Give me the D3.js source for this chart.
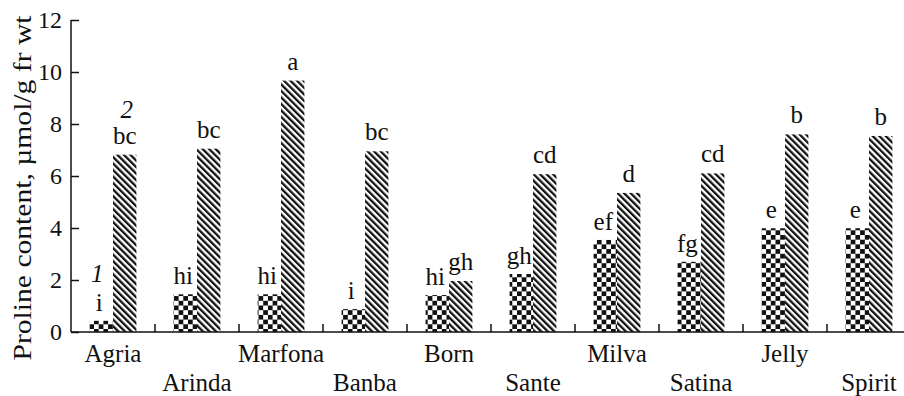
<!DOCTYPE html>
<html>
<head>
<meta charset="utf-8">
<script src="https://cdn.jsdelivr.net/npm/d3@7"></script>
<style>
  html, body { margin: 0; padding: 0; background: #fff; }
  svg { display: block; }
  text { font-family: "Liberation Serif", "Times New Roman", serif; fill: #111; }
</style>
</head>
<body>
<svg id="chart" width="904" height="396"></svg>
<script>
// Cultivars along the x axis
const cultivars = ["Agria", "Arinda", "Marfona", "Banba", "Born", "Sante", "Milva", "Satina", "Jelly", "Spirit"];
// Series 1 (checkered bars) and series 2 (hatched bars), µmol/g fr wt
const series1 = [0.43, 1.45, 1.45, 0.88, 1.42, 2.23, 3.54, 2.70, 3.99, 3.99];
const series2 = [6.82, 7.05, 9.67, 6.95, 1.96, 6.07, 5.35, 6.10, 7.60, 7.54];
// Significance letters above each bar
const letters1 = ["i", "hi", "hi", "i", "hi", "gh", "ef", "fg", "e", "e"];
const letters2 = ["bc", "bc", "a", "bc", "gh", "cd", "d", "cd", "b", "b"];
// Series markers written above the first group
const seriesNames = ["1", "2"];
const yTicks = [0, 2, 4, 6, 8, 10, 12];

const svg = d3.select("#chart");
const margin = { left: 71, top: 20, bottom: 64 };
const H = 396;
const x0 = 71, xEnd = 911, axisRight = 904;
const yBase = H - margin.bottom;

const x = d3.scaleBand().domain(cultivars).range([x0, xEnd]).padding(0);
const y = d3.scaleLinear().domain([0, 12]).range([yBase, margin.top]);
const barW = 23.4;
const fs = 25;

// Fill patterns
const defs = svg.append("defs");
const cell = 4.7;
const checker = defs.append("pattern")
  .attr("id", "checker").attr("patternUnits", "userSpaceOnUse")
  .attr("width", cell * 2).attr("height", cell * 2);
checker.append("rect").attr("width", cell * 2).attr("height", cell * 2).attr("fill", "#fff");
checker.append("rect").attr("width", cell).attr("height", cell).attr("fill", "#111");
checker.append("rect").attr("x", cell).attr("y", cell).attr("width", cell).attr("height", cell).attr("fill", "#111");

const hp = 4.6;
const hatch = defs.append("pattern")
  .attr("id", "hatch").attr("patternUnits", "userSpaceOnUse")
  .attr("width", hp).attr("height", hp)
  .attr("patternTransform", "rotate(-45)");
hatch.append("rect").attr("width", hp).attr("height", hp).attr("fill", "#fff");
hatch.append("rect").attr("width", hp * 0.5).attr("height", hp).attr("fill", "#111");

// Bars
const g = svg.append("g");
g.selectAll("rect.s1").data(cultivars).join("rect")
  .attr("class", "s1")
  .attr("x", d => x(d) + x.bandwidth() / 2 - barW)
  .attr("width", barW)
  .attr("y", (d, i) => y(series1[i]))
  .attr("height", (d, i) => yBase - y(series1[i]))
  .attr("fill", "url(#checker)");
g.selectAll("rect.s2").data(cultivars).join("rect")
  .attr("class", "s2")
  .attr("x", d => x(d) + x.bandwidth() / 2)
  .attr("width", barW)
  .attr("y", (d, i) => y(series2[i]))
  .attr("height", (d, i) => yBase - y(series2[i]))
  .attr("fill", "url(#hatch)");

// Letters above bars
g.selectAll("text.l1").data(cultivars).join("text")
  .attr("class", "l1")
  .attr("x", d => x(d) + x.bandwidth() / 2 - barW / 2 - 2)
  .attr("y", (d, i) => y(series1[i]) - 10)
  .attr("text-anchor", "middle").attr("font-size", fs)
  .text((d, i) => letters1[i]);
g.selectAll("text.l2").data(cultivars).join("text")
  .attr("class", "l2")
  .attr("x", d => x(d) + x.bandwidth() / 2 + barW / 2)
  .attr("y", (d, i) => y(series2[i]) - 11)
  .attr("text-anchor", "middle").attr("font-size", fs)
  .text((d, i) => letters2[i]);

// Series markers over the first group
const first = cultivars[0];
g.append("text")
  .attr("x", x(first) + x.bandwidth() / 2 - barW / 2 - 4)
  .attr("y", y(series1[0]) - 39)
  .attr("text-anchor", "middle").attr("font-size", fs).attr("font-style", "italic")
  .text(seriesNames[0]);
g.append("text")
  .attr("x", x(first) + x.bandwidth() / 2 + barW / 2 + 2)
  .attr("y", y(series2[0]) - 37)
  .attr("text-anchor", "middle").attr("font-size", fs).attr("font-style", "italic")
  .text(seriesNames[1]);

// Y axis with inward ticks
const yAxis = d3.axisLeft(y).tickValues(yTicks).tickSize(-8).tickPadding(9).tickFormat(d3.format("d"));
const ya = svg.append("g").attr("transform", `translate(${x0},0)`).call(yAxis);
ya.select(".domain").attr("stroke", "#111").attr("stroke-width", 1.5).attr("d", `M0,${yBase}V${margin.top}`);
ya.selectAll(".tick line").attr("stroke", "#111").attr("stroke-width", 1.5);
ya.selectAll(".tick text").attr("font-size", 24).attr("font-family", "Liberation Serif").attr("fill", "#111");

// X axis: baseline with small upward ticks between groups
const xa = svg.append("g");
xa.append("line").attr("x1", x0).attr("x2", axisRight).attr("y1", yBase).attr("y2", yBase)
  .attr("stroke", "#111").attr("stroke-width", 1.5);
xa.selectAll("line.sep").data(cultivars.slice(1)).join("line")
  .attr("class", "sep")
  .attr("x1", d => x(d)).attr("x2", d => x(d))
  .attr("y1", yBase).attr("y2", yBase - 8)
  .attr("stroke", "#111").attr("stroke-width", 1.5);
xa.selectAll("text").data(cultivars).join("text")
  .attr("x", d => x(d) + x.bandwidth() / 2)
  .attr("y", (d, i) => i % 2 === 0 ? yBase + 30 : yBase + 59)
  .attr("text-anchor", "middle").attr("font-size", fs)
  .text(d => d);

// Y axis title, stretched to span the axis height
svg.append("text")
  .attr("transform", `translate(31,${(yBase + margin.top) / 2 + 12}) rotate(-90)`)
  .attr("text-anchor", "middle").attr("font-size", fs)
  .attr("textLength", 345).attr("lengthAdjust", "spacingAndGlyphs")
  .text("Proline content, µmol/g fr wt");
</script>
</body>
</html>
